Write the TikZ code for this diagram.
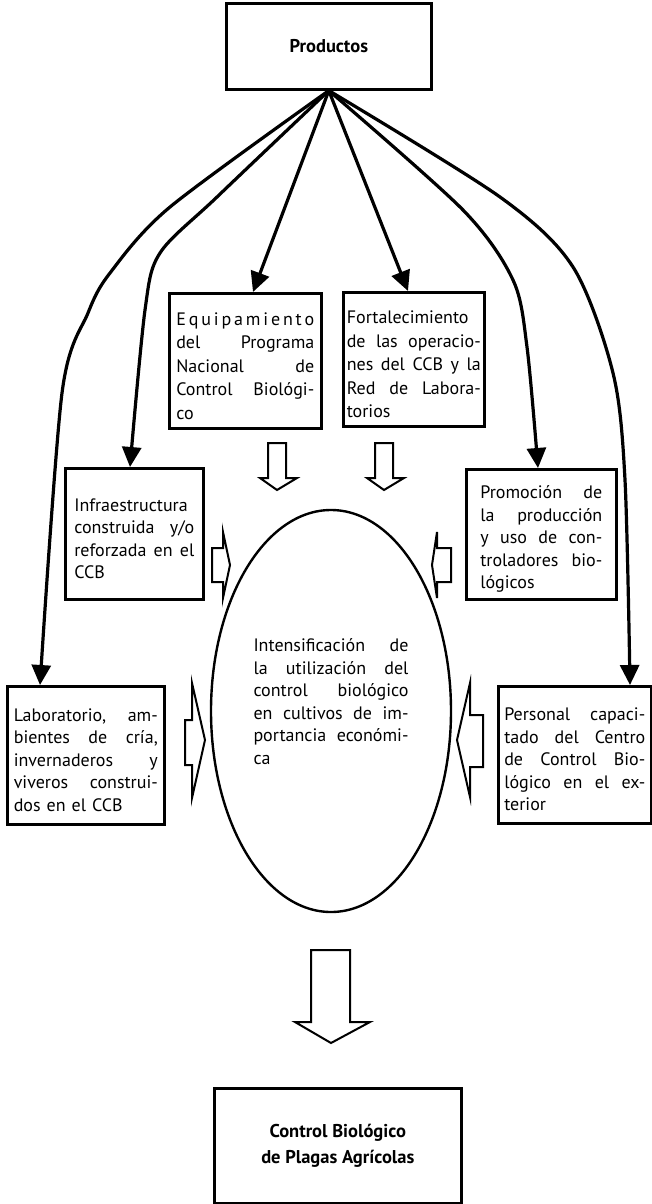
\documentclass[tikz,border=0pt]{standalone}
\usepackage{fontspec}
\setmainfont{PT Sans}
\usetikzlibrary{arrows.meta,shapes.geometric}
\newcommand\jl[1]{\par\noindent\hbox to\hsize{\spaceskip=0.25em plus 1fil\relax #1}\par}
\newcommand\jlast[1]{\par\noindent #1\par}
\newcommand\lift[1]{\vspace{#1pt}}
\begin{document}
\begin{tikzpicture}[x=1pt,y=-1pt,
  box/.style={draw, line width=2.6pt, inner sep=0pt, anchor=north west, align=left},
  txt/.style={text width=#1, align=left, font=\fontsize{18}{22.5}\selectfont},
  wide/.style={font=\fontsize{18}{23.5}\selectfont},
  bold/.style={font=\bfseries\fontsize{18.5}{26}\selectfont, align=center},
  conn/.style={line width=3.2pt, -{Triangle[length=20pt,width=19pt]}},
  block/.style={draw, line width=2pt, fill=white, line join=miter}]
\useasboundingbox (0,0) rectangle (652,1204);

% boxes
\node[box, bold, minimum width=205, minimum height=86] (prod) at (225,2) {Productos};
\node[box, txt=138, wide, minimum width=152, minimum height=135] (equip) at (168,292)
  {\jl{E\hfil q\hfil u\hfil i\hfil p\hfil a\hfil m\hfil i\hfil e\hfil n\hfil t\hfil o}\jl{del Programa}\jl{Nacional de}\jl{Control Biológi-}\jlast{co}\lift{12}};
\node[box, txt=134, wide, minimum width=141, minimum height=134] (fort) at (342,291)
  {\jl{Fortalecimiento}\jl{de las operacio-}\jl{nes del CCB y la}\jl{Red de Labora-}\jlast{torios}\lift{12}};
\node[box, txt=120, minimum width=138, minimum height=131] (infra) at (64,467)
  {\jl{Infraestructura}\jl{construida y/o}\jl{reforzada en el}\jlast{CCB}};
\node[box, txt=122, minimum width=150, minimum height=130] (promo) at (465,468)
  {\jl{Promoción de}\jl{la producción}\jl{y uso de con-}\jl{troladores bio-}\jlast{lógicos}};
\node[box, txt=144, minimum width=157, minimum height=138] (lab) at (6,685)
  {\jl{Laboratorio, am-}\jl{bientes de cría,}\jl{invernaderos y}\jl{viveros construi-}\jlast{dos en el CCB}\lift{12}};
\node[box, txt=141, minimum width=153, minimum height=137] (pers) at (497,685)
  {\jl{Personal capaci-}\jl{tado del Centro}\jl{de Control Bio-}\jl{lógico en el ex-}\jlast{terior}\lift{14}};
\node[draw, ellipse, line width=2.4pt, inner sep=0pt, minimum width=240, minimum height=402] (ell) at (331,711) {};
\node[txt=155, inner sep=0pt] (elltxt) at (331,697)
  {\jl{Intensificación de}\jl{la utilización del}\jl{control biológico}\jl{en cultivos de im-}\jl{portancia económi-}\jlast{ca}};
\node[box, bold, minimum width=247, minimum height=115] (ctrl) at (213,1087)
  {Control Biológico\\de Plagas Agrícolas};

% connectors
\draw[conn] (prod.south) -- ([xshift=85pt]equip.north west);
\draw[conn] (prod.south) -- ([xshift=66pt]fort.north west);
\draw[conn] plot[smooth] coordinates {(prod.south) (217,197) (160,253) (145,310) ([xshift=66pt]infra.north west)};
\draw[conn] plot[smooth] coordinates {(prod.south) (170,207) (110,273) (88,313) (62,393) ([xshift=34pt]lab.north west)};
\draw[conn] plot[smooth] coordinates {(prod.south) (463,210) (513,280) (527,347) ([xshift=73pt]promo.north west)};
\draw[conn] plot[smooth] coordinates {(prod.south) (500,197) (573,267) (613,373) (625,480) ([xshift=133pt]pers.north west)};

% hollow block arrows
\draw[block] (268,443) -- (286,443) -- (286,478) -- (297,478) -- (277,490) -- (260,478) -- (268,478) -- cycle;
\draw[block] (375,443) -- (393,443) -- (393,478) -- (404,478) -- (384,490) -- (367,478) -- (375,478) -- cycle;
\draw[block] (212,548) -- (223,548) -- (223,532) -- (230,565) -- (223,598) -- (223,582) -- (212,582) -- cycle;
\draw[block] (451,548) -- (437,548) -- (437,532) -- (432,565) -- (437,598) -- (437,582) -- (451,582) -- cycle;
\draw[block] (185,720) -- (192,720) -- (192,683) -- (205,740) -- (192,798) -- (192,765) -- (185,765) -- cycle;
\draw[block] (483,715) -- (470,715) -- (470,683) -- (457,740) -- (470,797) -- (470,767) -- (483,767) -- cycle;
\draw[block] (311,950) -- (350,950) -- (350,1022) -- (370,1022) -- (331,1043) -- (295,1022) -- (311,1022) -- cycle;
\end{tikzpicture}
\end{document}
